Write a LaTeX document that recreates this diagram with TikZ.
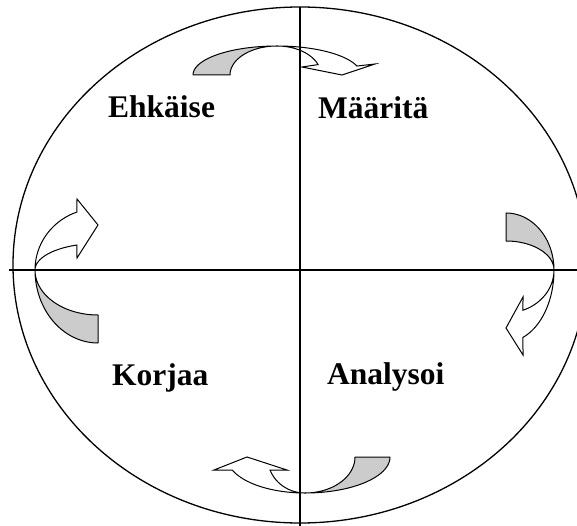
\documentclass[tikz,border=0pt]{standalone}
\usepackage{fontspec}
\setmainfont{Liberation Serif}
\definecolor{shade}{RGB}{204,204,204}
\tikzset{
  back/.style={draw=black, fill=shade, line width=1pt, line join=round},
  front/.style={draw=black, fill=white, line width=1pt, line join=miter},
  axis/.style={draw=black, line width=1.2pt},
  label/.style={anchor=base west, inner sep=0pt, font=\fontsize{31.5}{36}\selectfont\bfseries}
}
\begin{document}
\begin{tikzpicture}[x=1pt,y=-1pt]
\useasboundingbox (0,0) rectangle (577,526);
\clip (0,0) rectangle (577,526);
\fill[white] (0,0) rectangle (577,526);
% outer ellipse
\coordinate (O) at (300,265);
\draw[line width=1.3pt] (O) ellipse [x radius=287pt, y radius=258pt];
% top arrow (left to right)
\filldraw[back] plot[domain=180:90,samples=40,variable=\t] ({277+84*cos(\t)},{75-29*sin(\t)})
  -- plot[domain=90:180,samples=40,variable=\t] ({277+47*cos(\t)},{75-29*sin(\t)}) -- cycle;
\filldraw[front] plot[domain=90:18,samples=40,variable=\t] ({277+84*cos(\t)},{75-29*sin(\t)})
  -- (375,64) -- (342,75) -- (302,67)
  -- plot[domain=21:90,samples=40,variable=\t] ({277+44*cos(\t)},{75-29*sin(\t)}) -- cycle;
% right arrow (top to bottom)
\filldraw[back] plot[domain=-90:0,samples=40,variable=\t] ({506+48*cos(\t)},{270+57*sin(\t)})
  -- plot[domain=0:-90,samples=40,variable=\t] ({506+48*cos(\t)},{270+29*sin(\t)}) -- cycle;
\filldraw[front] plot[domain=0:69.3,samples=40,variable=\t] ({506+48*cos(\t)},{270+72*sin(\t)})
  -- (523,355) -- (506,328) -- (523,297)
  -- plot[domain=69.3:0,samples=40,variable=\t] ({506+48*cos(\t)},{270+43*sin(\t)}) -- cycle;
% bottom arrow (right to left)
\filldraw[back] plot[domain=0:90,samples=40,variable=\t] ({305+85*cos(\t)},{457+36*sin(\t)})
  -- plot[domain=90:0,samples=40,variable=\t] ({305+50*cos(\t)},{457+36*sin(\t)}) -- cycle;
\filldraw[front] plot[domain=90:158.8,samples=40,variable=\t] ({305+78*cos(\t)},{457+36*sin(\t)})
  -- (214,470) -- (247,457) -- (287,470)
  -- plot[domain=158.8:90,samples=40,variable=\t] ({305+37.5*cos(\t)},{457+36*sin(\t)}) -- cycle;
% left arrow (bottom to top)
\filldraw[back] plot[domain=90:180,samples=40,variable=\t] ({98+63*cos(\t)},{270+73*sin(\t)})
  -- plot[domain=180:90,samples=40,variable=\t] ({98+63*cos(\t)},{270+45*sin(\t)}) -- cycle;
\filldraw[front] plot[domain=180:250.5,samples=40,variable=\t] ({98+63*cos(\t)},{270+61.5*sin(\t)})
  -- (77,199) -- (98,225) -- (77,258)
  -- plot[domain=250.5:180,samples=40,variable=\t] ({98+63*cos(\t)},{270+26.5*sin(\t)}) -- cycle;
% axes
\coordinate (hl) at (9,270);
\coordinate (hr) at (577,270);
\coordinate (vt) at (300,7);
\coordinate (vb) at (300,526);
\draw[axis] (hl) -- (hr);
\draw[axis] (vt) -- (vb);
% labels
\node[label] (ehk) at (108,118) {Ehkäise};
\node[label] (maa) at (318,119) {Määritä};
\node[label] (kor) at (112,385) {Korjaa};
\node[label] (ana) at (327,384) {Analysoi};
\end{tikzpicture}
\end{document}
